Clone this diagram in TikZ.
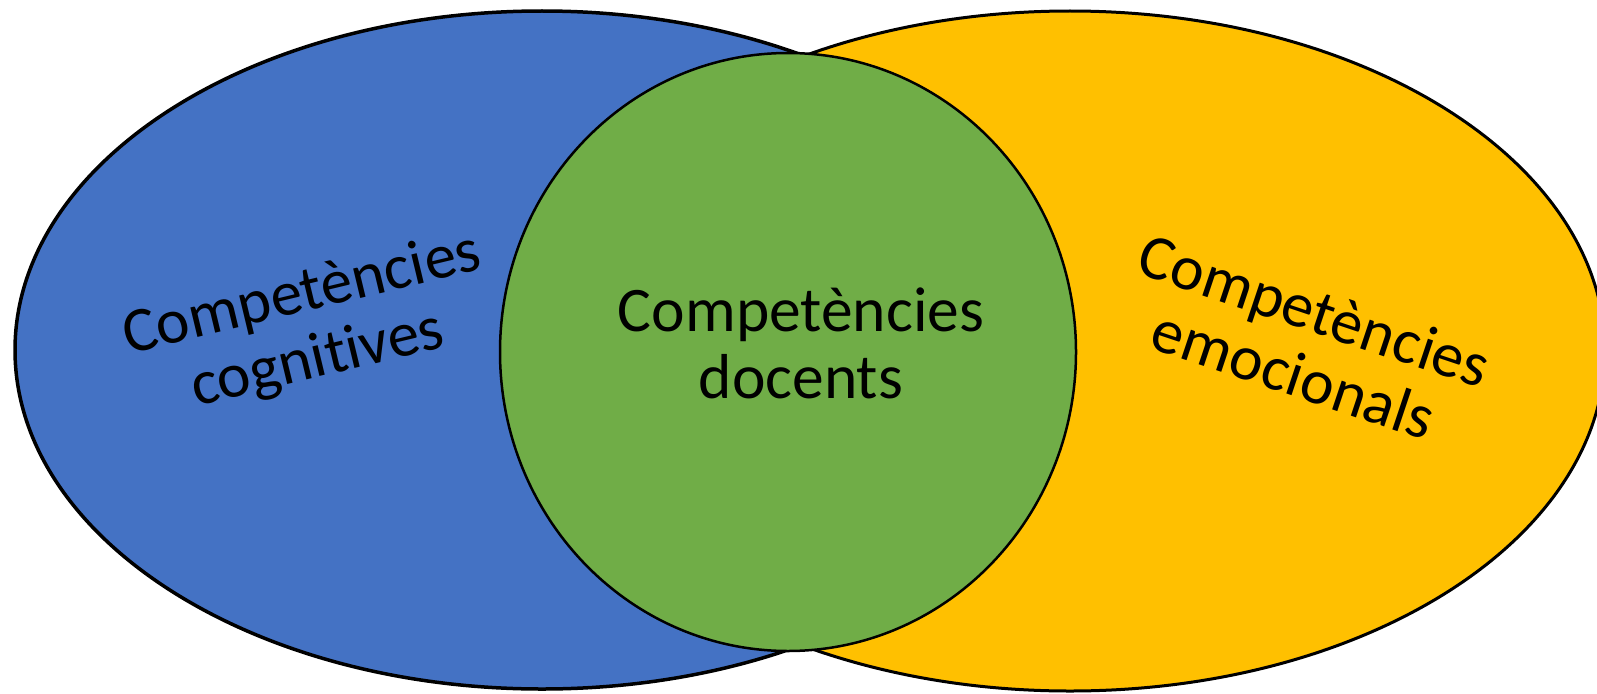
\documentclass[tikz,border=0pt]{standalone}
\usepackage{fontspec}
\setmainfont{Carlito}[Ligatures={NoCommon}]
\definecolor{cblue}{HTML}{4472C4}
\definecolor{cyellow}{HTML}{FFC000}
\definecolor{cgreen}{HTML}{70AD47}
\begin{document}
\begin{tikzpicture}[x=1pt,y=-1pt,
  lbl/.style={align=center,inner sep=0pt,font=\fontsize{63.5}{67}\selectfont}]
\useasboundingbox (0,0) rectangle (1597,693);
\clip (0,0) rectangle (1597,693);
\filldraw[fill=cblue,draw=black,line width=3.5pt] (542,350) ellipse [x radius=527pt,y radius=339pt];
\filldraw[fill=cyellow,draw=black,line width=3pt] (1070,351) ellipse [x radius=535pt,y radius=340pt];
\filldraw[fill=cgreen,draw=black,line width=2.5pt] (788,352) ellipse [x radius=288pt,y radius=299pt];
\node[lbl,rotate=13.5] (cog) at (310,328) {Competències\\cognitives};
\node[lbl] (doc) at (801,343) {Competències\\docents};
\node[lbl,rotate=-18.5] (emo) at (1304,342) {Competències\\emocionals};
\end{tikzpicture}
\end{document}
